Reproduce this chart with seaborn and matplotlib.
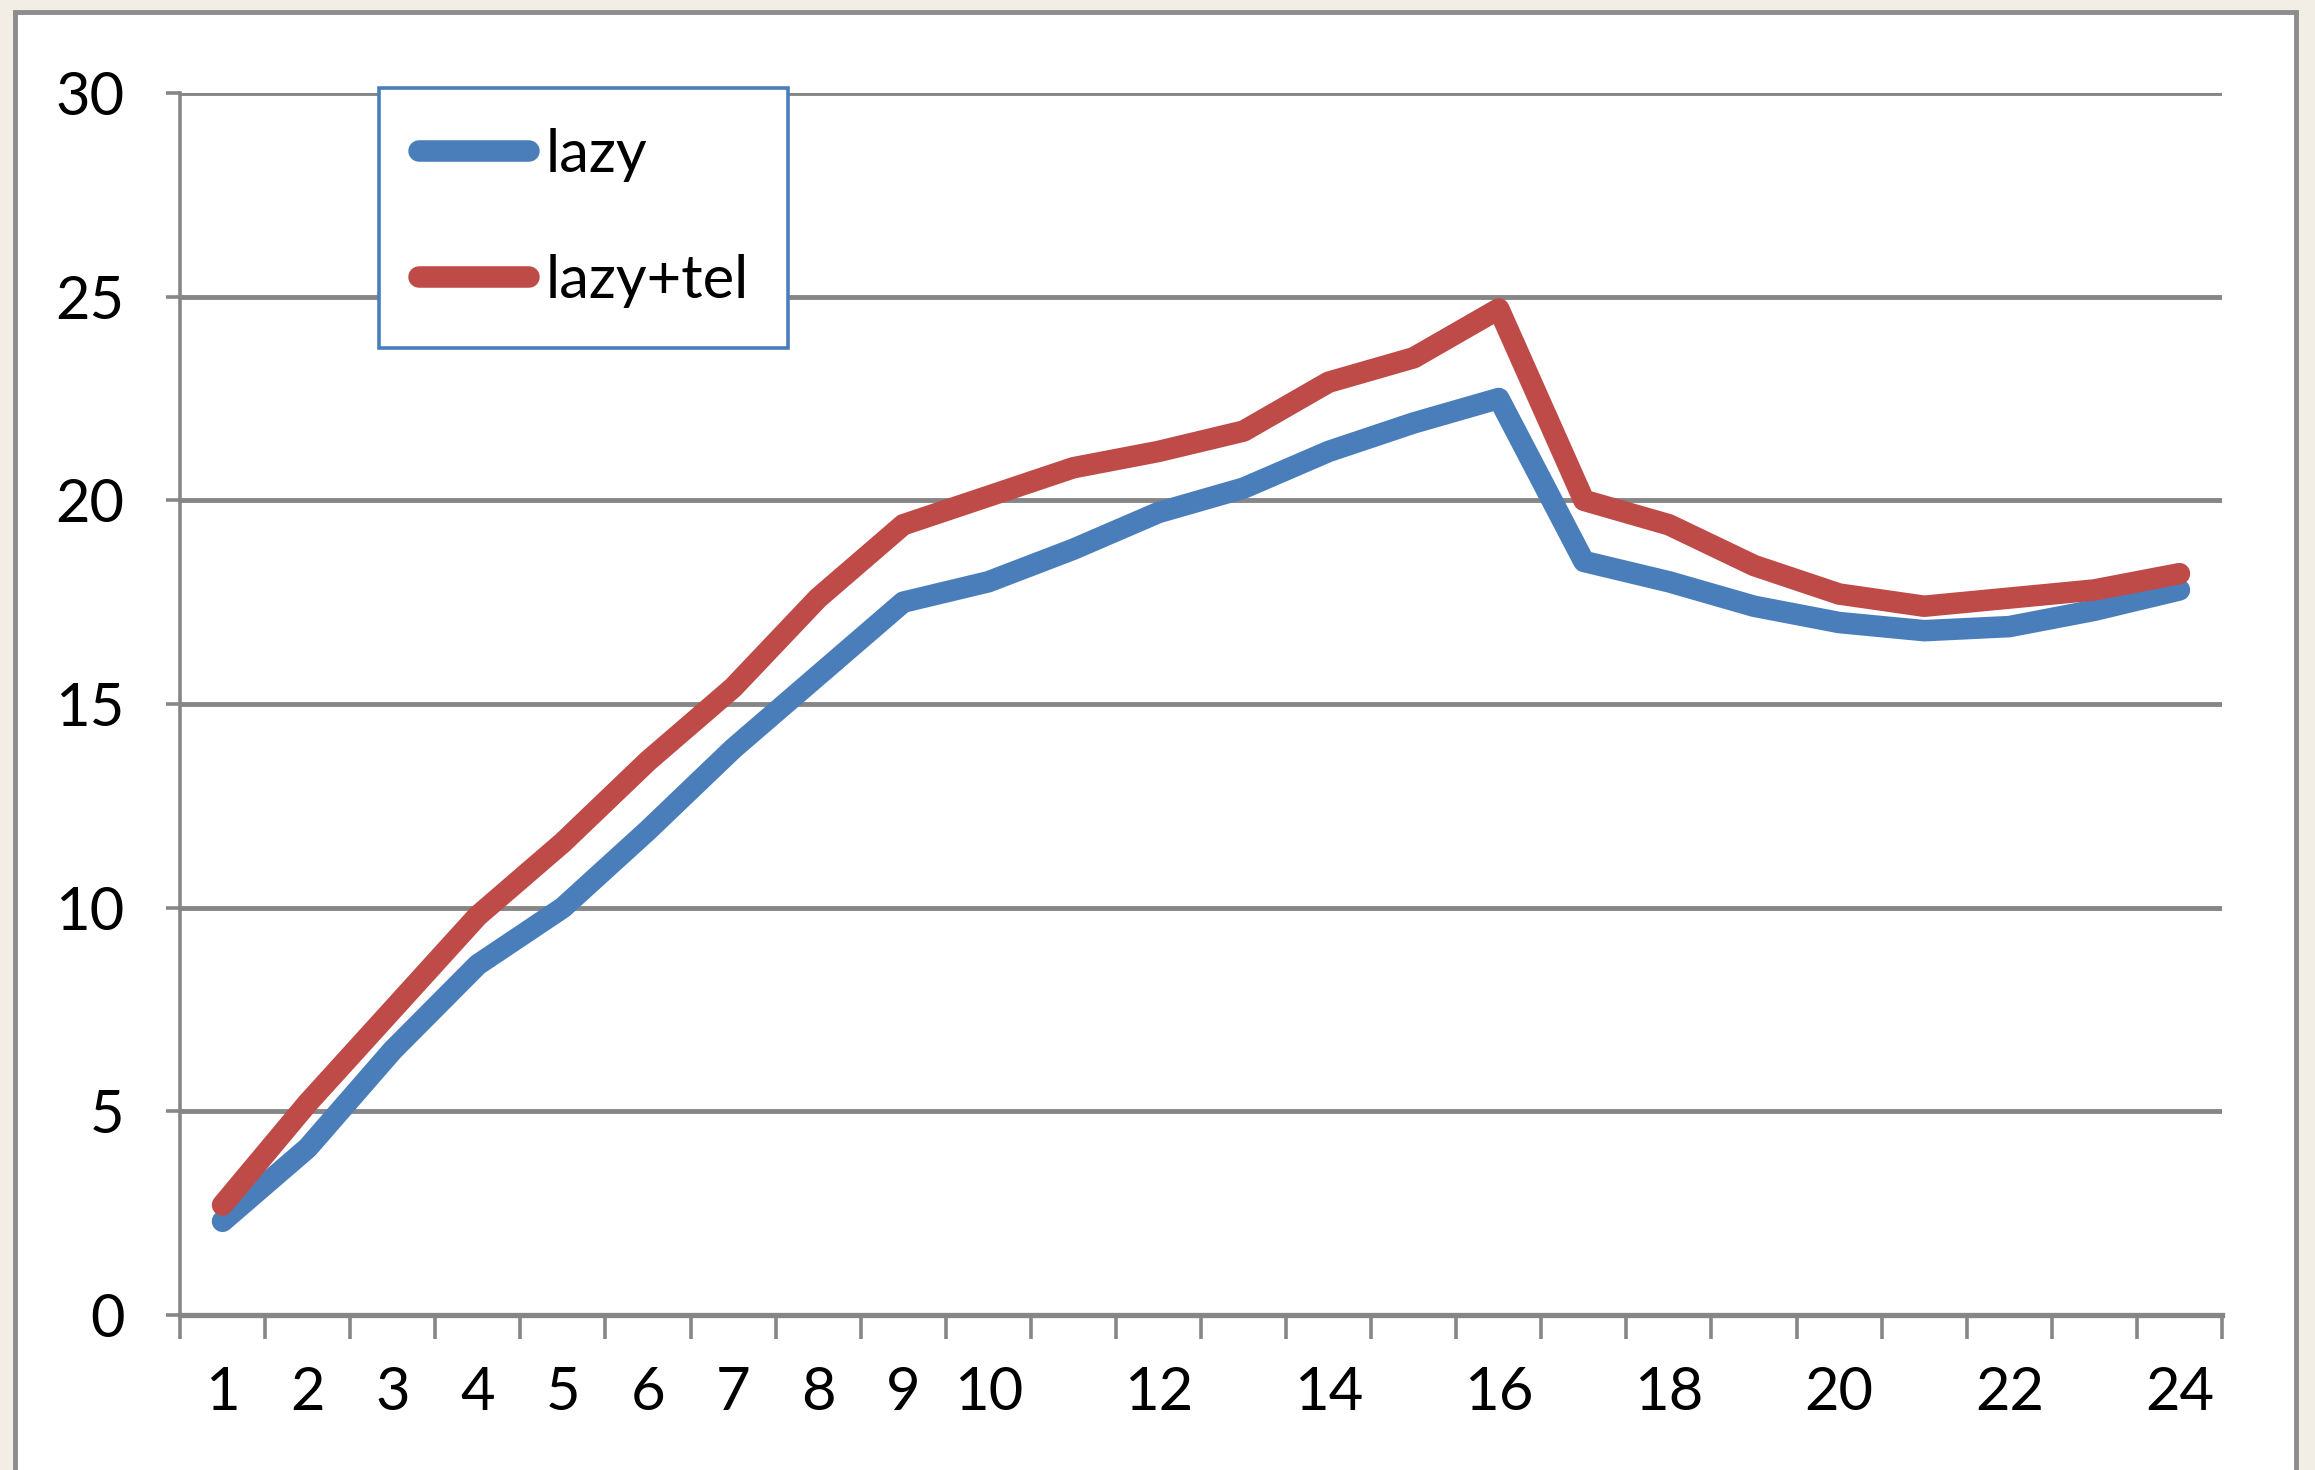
import matplotlib
matplotlib.use("Agg")
import matplotlib.pyplot as plt
from matplotlib.patches import Rectangle
import pandas as pd
import seaborn as sns

# Data
categories = list(range(1, 25))
lazy = [2.3, 4.1, 6.5, 8.6, 10.0, 11.9, 13.9, 15.7, 17.5, 18.0, 18.8, 19.7,
        20.3, 21.2, 21.9, 22.5, 18.5, 18.0, 17.4, 17.0, 16.8, 16.9, 17.3, 17.8]
lazy_tel = [2.7, 5.2, 7.5, 9.8, 11.6, 13.6, 15.4, 17.6, 19.4, 20.1, 20.8, 21.2,
            21.7, 22.9, 23.5, 24.7, 20.0, 19.4, 18.4, 17.7, 17.4, 17.6, 17.8, 18.2]
series_names = ["lazy", "lazy+tel"]
x_labels = ["1", "2", "3", "4", "5", "6", "7", "8", "9", "10", "", "12", "",
            "14", "", "16", "", "18", "", "20", "", "22", "", "24"]
y_ticks = [0, 5, 10, 15, 20, 25, 30]

df = pd.DataFrame({
    "x": categories * 2,
    "value": lazy + lazy_tel,
    "series": [series_names[0]] * len(lazy) + [series_names[1]] * len(lazy_tel),
})

BLUE = "#4A7EBB"
RED = "#BE4B48"
GRID = "#868686"
BEIGE = "#F2EEE6"
FS = 43
LW = 15.5

sns.set_theme(style="white")
plt.rcParams["font.family"] = ["Lato", "DejaVu Sans"]
plt.rcParams["text.color"] = "black"

W, H = 2315, 1470
fig = plt.figure(figsize=(W / 100, H / 100), dpi=100, facecolor=BEIGE)

# White chart panel with grey border, behind the axes
fig.patches.append(Rectangle((15 / W, -0.05), (2296 - 15) / W, 1.05 - 12 / H,
                             transform=fig.transFigure, facecolor="white",
                             edgecolor="#8C8C8C", linewidth=3.5, zorder=-10))

ax = fig.add_axes([180 / W, 1 - 1315 / H, (2222 - 180) / W, (1315 - 93) / H])
ax.set_zorder(1)
ax.set_facecolor("none")

sns.lineplot(data=df, x="x", y="value", hue="series",
             palette=[BLUE, RED], linewidth=LW, ax=ax,
             solid_capstyle="round", solid_joinstyle="round", zorder=3)

ax.set_xlim(0.5, 24.5)
ax.set_ylim(0, 30)
ax.set_xlabel("")
ax.set_ylabel("")

# Y axis: grid lines and outward ticks
ax.set_yticks(y_ticks)
ax.set_yticklabels([str(v) for v in y_ticks], fontsize=FS)
for v in y_ticks[1:]:
    ax.axhline(v, color=GRID, linewidth=3.5, zorder=1)
ax.tick_params(axis="y", which="major", direction="out", length=10, width=2.6,
               color=GRID, pad=30, left=True, labelcolor="black")

# X axis: labels at category centres, tick marks at category boundaries
ax.set_xticks(categories)
ax.set_xticklabels(x_labels, fontsize=FS)
ax.set_xticks([c - 0.5 for c in categories] + [24.5], minor=True)
ax.tick_params(axis="x", which="major", length=0, pad=37, labelcolor="black")
ax.tick_params(axis="x", which="minor", direction="out", length=17, width=2.6,
               color=GRID, bottom=True)

for side in ["top", "right"]:
    ax.spines[side].set_visible(False)
ax.spines["left"].set_color(GRID)
ax.spines["left"].set_linewidth(2.6)
ax.spines["bottom"].set_color(GRID)
ax.spines["bottom"].set_linewidth(3.8)

# Legend
handles, labels = ax.get_legend_handles_labels()
for h in handles:
    h.set_linewidth(LW)
    h.set_solid_capstyle("round")
leg = ax.legend(handles, labels, loc="upper left",
                bbox_to_anchor=(0.0975, 1.004), fontsize=FS,
                handlelength=1.85, handletextpad=0.28, labelspacing=1.22,
                borderpad=0.66, borderaxespad=0, frameon=True, fancybox=False,
                edgecolor=BLUE, framealpha=1)
leg.get_frame().set_linewidth(2.6)
for t in leg.get_texts():
    t.set_color("black")
leg.set_zorder(5)

fig.savefig("out.png", dpi=100, facecolor=BEIGE)
